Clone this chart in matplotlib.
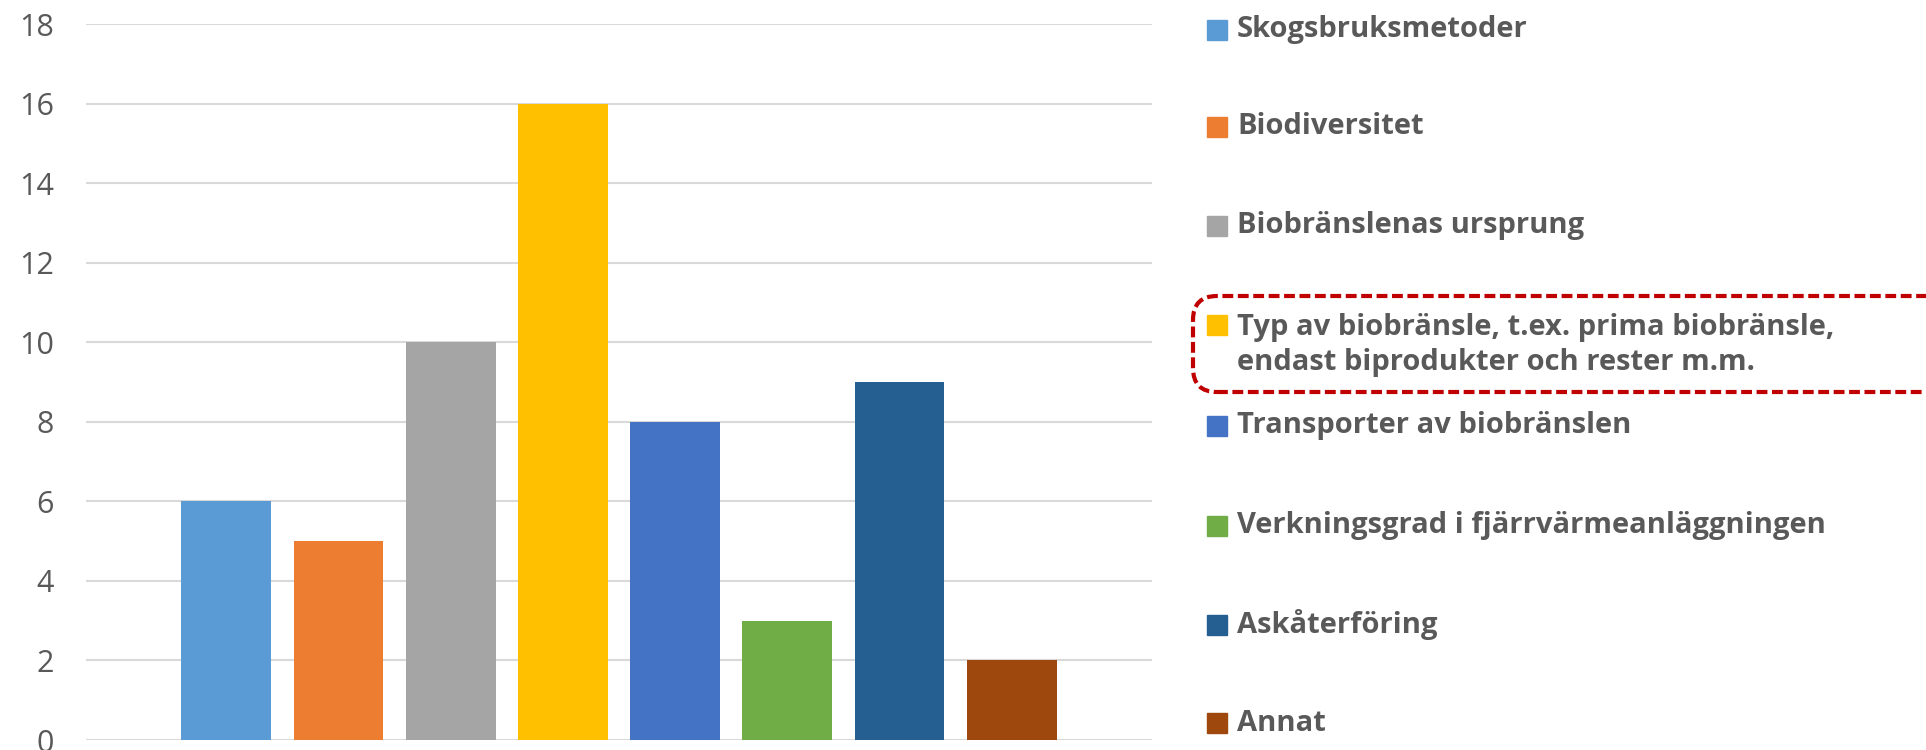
import matplotlib
matplotlib.use('Agg')
import matplotlib.pyplot as plt
from matplotlib.patches import Rectangle, FancyBboxPatch

# ── Data ──────────────────────────────────────────────────────────────────────
categories = [
    "Skogsbruksmetoder",
    "Biodiversitet",
    "Biobränslenas ursprung",
    "Typ av biobränsle, t.ex. prima biobränsle,\nendast biprodukter och rester m.m.",
    "Transporter av biobränslen",
    "Verkningsgrad i fjärrvärmeanläggningen",
    "Askåterföring",
    "Annat",
]
values = [6, 5, 10, 16, 8, 3, 9, 2]
colors = ["#5B9BD5", "#ED7D31", "#A5A5A5", "#FFC000",
          "#4472C4", "#70AD47", "#255E91", "#9E480E"]
yticks = [0, 2, 4, 6, 8, 10, 12, 14, 16, 18]

TEXT = "#595959"
W, H = 1926, 750

fig = plt.figure(figsize=(W / 100, H / 100), dpi=100)
ax = fig.add_axes([86 / W, 1 - 740 / H, (1152 - 86) / W, (740 - 24) / H])

ax.bar(range(len(values)), values, width=0.8, color=colors, zorder=3)
ax.set_xlim(-1.25, len(values) + 0.25)
ax.set_ylim(0, 18)
ax.set_yticks(yticks)
ax.set_xticks([])
ax.grid(axis='y', color="#D9D9D9", linewidth=1.5, zorder=0)
for s in ax.spines.values():
    s.set_visible(False)
ax.tick_params(axis='y', length=0, pad=23, labelsize=22, labelcolor=TEXT)
for lbl in ax.get_yticklabels():
    lbl.set_family("Open Sans")

# ── Legend (drawn by hand to match spacing) ───────────────────────────────────
row_y = [29.5, 126.5, 226, 325.4, 426, 525.6, 625, 723.3]
for cat, col, y in zip(categories, colors, row_y):
    fig.patches.append(Rectangle((1207 / W, 1 - (y + 10) / H), 20 / W, 20 / H,
                                 transform=fig.transFigure, color=col))
    if '\n' in cat:
        # first line centred on the marker, second line below
        yc = (325.4 + 364.7) / 2
        fig.text(1237 / W, 1 - yc / H, cat, ha='left', va='center',
                 fontsize=21, fontweight='bold', color=TEXT, family="Open Sans",
                 linespacing=1.3)
    else:
        fig.text(1237 / W, 1 - y / H, cat, ha='left', va='center',
                 fontsize=21, fontweight='bold', color=TEXT, family="Open Sans")

# dashed highlight box around entry 4 (inch coordinates so corners stay round)
box = FancyBboxPatch((11.93, (H - 392) / 100), 8.0, 0.96,
                     boxstyle="round,pad=0,rounding_size=0.24",
                     transform=fig.dpi_scale_trans, fill=False,
                     edgecolor="#C00000", linewidth=3, linestyle=(0, (2.6, 1.1)))
fig.patches.append(box)

fig.savefig("out.png", dpi=100)
